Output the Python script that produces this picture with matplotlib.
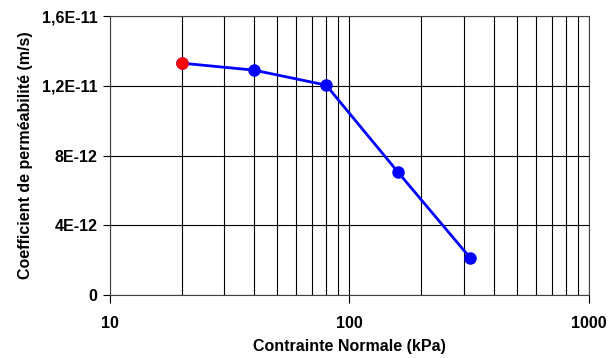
import numpy as np
import matplotlib
matplotlib.use('Agg')
import matplotlib.pyplot as plt
from matplotlib.ticker import FixedLocator, FuncFormatter, NullFormatter

plt.rcParams['font.family'] = ['Liberation Sans', 'DejaVu Sans']
plt.rcParams['font.weight'] = 'bold'

# data
stress_kpa = [20, 40, 80, 160, 320]
permeability = [1.33e-11, 1.29e-11, 1.204e-11, 7.03e-12, 2.12e-12]
y_ticks = [0, 4e-12, 8e-12, 1.2e-11, 1.6e-11]
y_tick_labels = ['0', '4E-12', '8E-12', '1,2E-11', '1,6E-11']
x_ticks = [10, 100, 1000]
x_tick_labels = ['10', '100', '1000']

fig = plt.figure(figsize=(6.14, 3.58), dpi=100)
ax = fig.add_axes([0.179, 0.176, 0.780, 0.779])

ax.plot(stress_kpa, permeability, color='#0000ff', lw=2.0, marker='o',
        markersize=8, markerfacecolor='#0000ff', markeredgecolor='#0000ff', zorder=3)
ax.plot(stress_kpa[:1], permeability[:1], 'o', color='#ff0000', markersize=8, zorder=4)

ax.set_xscale('log')
ax.set_xlim(10, 1000)
ax.set_ylim(0, 1.6e-11)

ax.xaxis.set_major_locator(FixedLocator(x_ticks))
ax.xaxis.set_major_formatter(FuncFormatter(lambda v, p: x_tick_labels[x_ticks.index(round(v))] if round(v) in x_ticks else ''))
ax.xaxis.set_minor_formatter(NullFormatter())
ax.set_yticks(y_ticks)
ax.set_yticklabels(y_tick_labels)

ax.grid(True, which='both', axis='x', color='black', lw=0.8)
ax.grid(True, which='major', axis='y', color='black', lw=0.8)
ax.tick_params(axis='x', which='minor', length=0)
ax.tick_params(axis='x', which='major', direction='out', length=6, width=0.8, pad=9,
               labelsize=11.5, colors='black')
ax.tick_params(axis='y', which='major', direction='out', length=5, width=0.8, pad=4,
               labelsize=11.5, colors='black')
for s in ax.spines.values():
    s.set_color('#404040')
    s.set_linewidth(0.8)

ax.set_xlabel('Contrainte Normale (kPa)', fontsize=11.5, fontweight='bold', labelpad=6)
ax.set_ylabel('Coefficient de perméabilité (m/s)', fontsize=11.5, fontweight='bold', labelpad=6)

fig.savefig('out.png', dpi=100)
